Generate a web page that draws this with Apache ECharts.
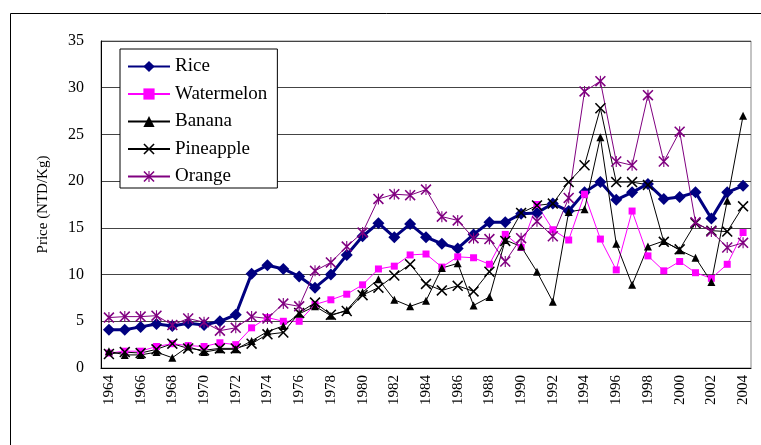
<!DOCTYPE html>
<html>
<head>
<meta charset="utf-8">
<script src="https://cdn.jsdelivr.net/npm/echarts@6/dist/echarts.min.js"></script>
<style>
  html, body { margin: 0; padding: 0; background: #fff; }
  #main { width: 761px; height: 445px; }
</style>
</head>
<body>
<div id="main"></div>
<script>
// ====================== 数据 ======================
var years = [];
for (var y = 1964; y <= 2004; y++) { years.push(String(y)); }

var rice = [4.1, 4.1, 4.4, 4.7, 4.5, 4.8, 4.6, 5.0, 5.7, 10.1, 11.0, 10.6, 9.8, 8.6, 10.0, 12.1, 14.1, 15.5, 14.0, 15.4,
    14.0, 13.3, 12.8, 14.3, 15.6, 15.6, 16.5, 16.6, 17.6, 16.8, 18.8, 19.9, 18.0, 18.8, 19.7, 18.1, 18.3, 18.8, 16.0, 18.8, 19.5];
var watermelon = [1.6, 1.8, 1.8, 2.3, 2.6, 2.4, 2.3, 2.7, 2.5, 4.3, 5.4, 5.0, 5.0, 6.8, 7.3, 7.9, 8.9, 10.6, 10.9, 12.1,
    12.2, 10.8, 11.9, 11.8, 11.1, 14.3, 12.9, 17.5, 14.8, 13.7, 18.6, 13.8, 10.5, 16.8, 12.0, 10.4, 11.4, 10.2, 9.6, 11.1, 14.5];
var banana = [1.8, 1.4, 1.4, 1.7, 1.1, 2.3, 1.7, 2.0, 2.0, 2.9, 3.9, 4.5, 5.8, 6.6, 5.6, 6.2, 8.1, 9.5, 7.3, 6.6,
    7.2, 10.7, 11.2, 6.7, 7.6, 13.7, 13.0, 10.3, 7.1, 16.7, 17.0, 24.7, 13.3, 8.9, 13.0, 13.6, 12.6, 11.8, 9.2, 17.9, 27.0];
var pineapple = [1.5, 1.7, 1.6, 2.0, 2.6, 2.1, 1.9, 2.1, 2.1, 2.6, 3.6, 3.8, 5.9, 7.0, 5.7, 6.1, 7.8, 8.6, 9.9, 11.1,
    9.0, 8.3, 8.8, 8.2, 10.3, 13.6, 16.6, 17.4, 17.6, 19.9, 21.7, 27.8, 19.9, 19.9, 19.6, 13.5, 12.7, 15.5, 14.7, 14.6, 17.3];
var orange = [5.4, 5.5, 5.5, 5.6, 4.6, 5.3, 4.9, 4.0, 4.3, 5.5, 5.3, 6.9, 6.6, 10.4, 11.3, 13.0, 14.5, 18.1, 18.6, 18.5,
    19.1, 16.2, 15.8, 13.9, 13.8, 11.4, 13.9, 15.7, 14.1, 18.2, 29.6, 30.7, 22.1, 21.7, 29.2, 22.1, 25.3, 15.6, 14.6, 12.9, 13.4];

// 标记形状
var crossPath = 'path://M0,1L1,0L5,4L9,0L10,1L6,5L10,9L9,10L5,6L1,10L0,9L4,5Z';
var starPath = 'path://M4.5,0L5.5,0L5.5,10L4.5,10Z M0,1L1,0L10,9L9,10Z M9,0L10,1L1,10L0,9Z';

var font = '"Liberation Serif", "Times New Roman", serif';

function makeSeries(name, data, color, width, symbol, size) {
    return {
        name: name,
        type: 'line',
        data: data,
        symbol: symbol,
        symbolSize: size,
        showAllSymbol: true,
        lineStyle: { color: color, width: width },
        itemStyle: { color: color, borderWidth: 0 },
        emphasis: { disabled: true },
        animation: false
    };
}

var chart = echarts.init(document.getElementById('main'));
var option = {
    backgroundColor: '#fff',
    textStyle: { fontFamily: font, color: '#000' },
    graphic: [{
        type: 'rect',
        shape: { x: 10.5, y: 13.5, width: 800, height: 500 },
        style: { fill: 'none', stroke: '#000', lineWidth: 1 },
        silent: true
    }],
    legend: {
        orient: 'vertical',
        left: 120,
        top: 49,
        width: 157,
        padding: [8, 10, 2, 7],
        itemGap: 8.5,
        itemWidth: 42,
        itemHeight: 14,
        borderColor: '#000',
        borderWidth: 1,
        backgroundColor: '#fff',
        textStyle: { fontFamily: font, fontSize: 19, color: '#000' },
        data: ['Rice', 'Watermelon', 'Banana', 'Pineapple', 'Orange']
    },
    grid: {
        left: 101,
        right: 10,
        top: 41,
        bottom: 77,
        show: true,
        borderColor: '#888',
        borderWidth: 1
    },
    xAxis: {
        type: 'category',
        data: years,
        boundaryGap: true,
        axisLine: { lineStyle: { color: '#000', width: 1 } },
        axisTick: { inside: true, length: 4, lineStyle: { color: '#000' } },
        axisLabel: {
            interval: 1,
            rotate: 90,
            margin: 7,
            fontFamily: font,
            fontSize: 15,
            color: '#000'
        },
        splitLine: { show: false }
    },
    yAxis: {
        type: 'value',
        min: 0,
        max: 35,
        interval: 5,
        name: 'Price (NTD/Kg)',
        nameLocation: 'middle',
        nameGap: 50,
        nameTextStyle: { fontFamily: font, fontSize: 15, color: '#000' },
        axisLine: { show: true, lineStyle: { color: '#000', width: 1 } },
        axisTick: { show: false },
        axisLabel: { fontFamily: font, fontSize: 16, color: '#000', margin: 17 },
        splitLine: { lineStyle: { color: '#444', width: 1 } }
    },
    series: [
        makeSeries('Rice', rice, '#000080', 3, 'diamond', 12),
        makeSeries('Watermelon', watermelon, '#ff00ff', 1, 'rect', 7),
        makeSeries('Banana', banana, '#000', 1, 'triangle', 8),
        makeSeries('Pineapple', pineapple, '#000', 1, crossPath, 11),
        makeSeries('Orange', orange, '#800080', 1, starPath, 11)
    ]
};
chart.setOption(option);
</script>
</body>
</html>
